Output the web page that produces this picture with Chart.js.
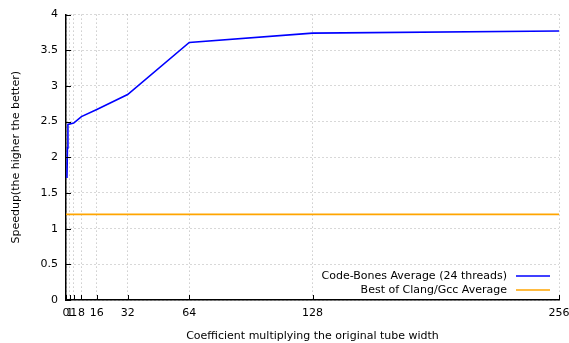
<!DOCTYPE html>
<html>
<head>
<meta charset="utf-8">
<script src="https://cdn.jsdelivr.net/npm/chart.js@4"></script>
<style>
    html, body { margin: 0; padding: 0; background: #fff; }
    #wrap { width: 569px; height: 343px; }
</style>
</head>
<body>
<div id="wrap"><canvas id="speedChart" width="569" height="343"></canvas></div>
<script>
// Width coefficients and measured speedups
const widthCoef = [0.5, 0.75, 1, 4, 8, 16, 32, 64, 128, 256];
const codeBonesAvg = [1.71, 2.13, 2.46, 2.48, 2.57, 2.67, 2.88, 3.61, 3.74, 3.77];
const compilerX = [0, 256];
const compilerAvg = [1.2, 1.2];

// x tick positions and their printed labels
const xTicks = [0, 2, 4, 8, 16, 32, 64, 128, 256];
const xTickLabels = ['0', '1', '1', '8', '16', '32', '64', '128', '256'];

const FONT = 'DejaVu Sans';
const GRID = 'rgba(170, 170, 170, 0.9)';

// gnuplot-style key: text right aligned, line sample on the right
const keyPlugin = {
    id: 'key',
    afterDraw(chart) {
        const ctx = chart.ctx;
        const area = chart.chartArea;
        ctx.save();
        ctx.font = '11px "' + FONT + '"';
        ctx.textAlign = 'right';
        ctx.textBaseline = 'middle';
        chart.data.datasets.forEach((ds, i) => {
            const y = area.bottom - 24 + i * 14;
            ctx.fillStyle = '#000';
            ctx.fillText(ds.label, area.right - 52, y);
            ctx.strokeStyle = ds.borderColor;
            ctx.lineWidth = 1.5;
            ctx.beginPath();
            ctx.moveTo(area.right - 43, y);
            ctx.lineTo(area.right - 9, y);
            ctx.stroke();
        });
        ctx.restore();
    }
};

// small inward tick marks on both axes
const innerTicks = {
    id: 'innerTicks',
    afterDatasetsDraw(chart) {
        const ctx = chart.ctx;
        const area = chart.chartArea;
        const x = chart.scales.x, y = chart.scales.y;
        ctx.save();
        ctx.strokeStyle = '#000';
        ctx.lineWidth = 1;
        ctx.beginPath();
        x.ticks.forEach(t => {
            const px = Math.round(x.getPixelForValue(t.value)) + 0.5;
            ctx.moveTo(px, area.bottom);
            ctx.lineTo(px, area.bottom - 5);
        });
        y.ticks.forEach(t => {
            const py = Math.round(y.getPixelForValue(t.value)) + 0.5;
            ctx.moveTo(area.left, py);
            ctx.lineTo(area.left + 5, py);
        });
        ctx.stroke();
        ctx.restore();
    }
};

const ctx = document.getElementById('speedChart').getContext('2d');

new Chart(ctx, {
    type: 'line',
    data: {
        datasets: [{
            label: 'Code-Bones Average (24 threads)',
            data: widthCoef.map((v, i) => ({ x: v, y: codeBonesAvg[i] })),
            borderColor: '#0000ff',
            borderWidth: 1.6,
            pointRadius: 0,
            tension: 0
        }, {
            label: 'Best of Clang/Gcc Average',
            data: compilerX.map((v, i) => ({ x: v, y: compilerAvg[i] })),
            borderColor: '#ffa500',
            borderWidth: 1.6,
            pointRadius: 0,
            tension: 0
        }]
    },
    options: {
        responsive: false,
        animation: false,
        layout: { padding: { left: 0, right: 10, top: 12, bottom: 0 } },
        plugins: {
            legend: { display: false },
            tooltip: { enabled: false }
        },
        scales: {
            x: {
                type: 'linear',
                min: 0,
                max: 256,
                afterBuildTicks: scale => {
                    scale.ticks = xTicks.map(v => ({ value: v }));
                },
                // keep the plot edge fixed, let "256" run past it
                afterFit: scale => {
                    scale.height = 43;
                    scale.paddingLeft = 0;
                    scale.paddingRight = 0;
                },
                ticks: {
                    autoSkip: false,
                    maxRotation: 0,
                    padding: 7,
                    color: '#000',
                    font: { family: FONT, size: 11 },
                    callback: value => xTickLabels[xTicks.indexOf(value)]
                },
                grid: { color: GRID, drawTicks: false },
                border: { color: '#000', width: 1.5, dash: [1, 3] },
                title: {
                    display: true,
                    text: 'Coefficient multiplying the original tube width',
                    color: '#000',
                    font: { family: FONT, size: 11 },
                    padding: { top: 3, bottom: 0 }
                }
            },
            y: {
                min: 0,
                max: 4,
                afterFit: scale => { scale.width = 66; },
                ticks: {
                    stepSize: 0.5,
                    padding: 8,
                    color: '#000',
                    font: { family: FONT, size: 11 },
                    callback: value => String(value)
                },
                grid: { color: GRID, drawTicks: false },
                border: { color: '#000', width: 1.5, dash: [1, 3] },
                title: {
                    display: true,
                    text: 'Speedup(the higher the better)',
                    color: '#000',
                    font: { family: FONT, size: 11 },
                    padding: { top: 10, bottom: 0 }
                }
            }
        }
    },
    plugins: [innerTicks, keyPlugin]
});
</script>
</body>
</html>
